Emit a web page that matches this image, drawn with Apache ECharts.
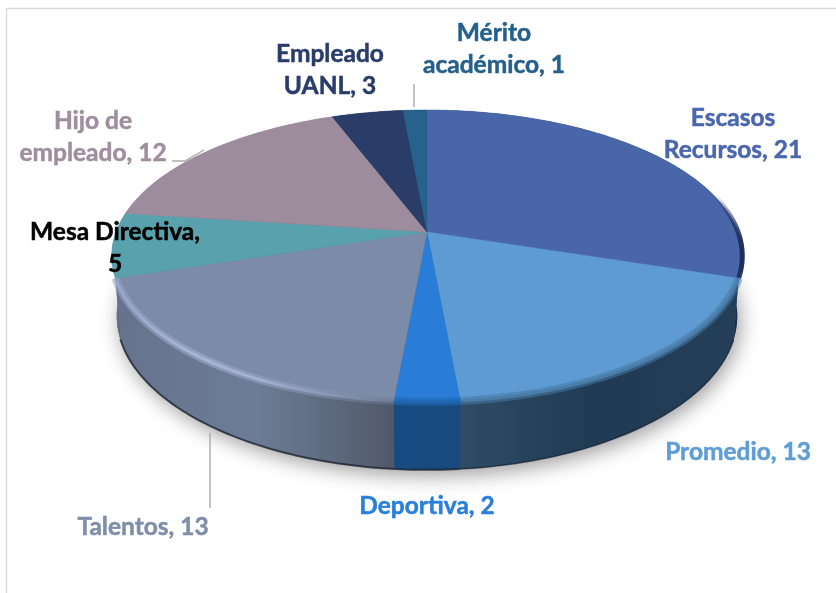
<!DOCTYPE html>
<html>
<head>
<meta charset="utf-8">
<style>html,body{margin:0;padding:0;background:#fff}#c{width:836px;height:593px}</style>
<script src="https://cdn.jsdelivr.net/npm/echarts@6/dist/echarts.min.js"></script>
</head>
<body>
<div id="c"></div>
<script>
// Data, clockwise from 12 o'clock
var categories = ['Escasos Recursos', 'Promedio', 'Deportiva', 'Talentos', 'Mesa Directiva', 'Hijo de empleado', 'Empleado UANL', 'Mérito académico'];
var values = [21, 13, 2, 13, 5, 12, 3, 1];
var labelLines = [['Escasos', 'Recursos, 21'], ['Promedio, 13'], ['Deportiva, 2'], ['Talentos, 13'], ['Mesa Directiva,', '5'], ['Hijo de', 'empleado, 12'], ['Empleado', 'UANL, 3'], ['Mérito', 'académico, 1']];

// Styles
var topColors = ['#4866a8', '#5e9bd2', '#2a7dd6', '#7c8ca8', '#5aa1ae', '#9c8c9d', '#2a3c68', '#27628d'];
var labelColors = ['#4a66ac', '#5f9dd5', '#2a7fdb', '#7f8fa9', '#000000', '#9e8e9e', '#2a3d6a', '#25608c'];
var sideStops = [
  ['#1e2c56', '#1e2c56'], ['#2f4c66', '#1f3a52', '#243f57'], ['#174c82', '#184a7e'], ['#66738c', '#6d7c96', '#50596a'],
  ['#66738c', '#66738c'], ['#8a7c8c', '#8a7c8c'], ['#1e2c50', '#1e2c50'], ['#1c4a6c', '#1c4a6c']
];
var labelBoxes = [[733, 118], [738, 452], [427, 506], [143, 527], [115, 232], [93, 121], [330, 54], [494, 33]];
var leaderLines = [[[210, 433], [210, 508]], [[414, 84], [414, 107]], [[172, 161], [185, 161], [204, 150]]];

var total = values.reduce(function (a, b) { return a + b; }, 0);
var CX = 427, APEX_Y = 232, RX = 311, RY = 142, K = 0.164;
var TOP_CY = 256, TOP_RY = 146, BOT_CY = 316, BOT_RY = 154, BOT_SX = 0.984;

function project(deg) {
  var t = deg * Math.PI / 180, u = Math.sin(t), v = Math.cos(t), w = 1 + K * v;
  return [CX + RX * u / w, APEX_Y - RY * v / w];
}
function toBottom(p) {
  return [CX + (p[0] - CX) * BOT_SX, BOT_CY + (p[1] - TOP_CY) * BOT_RY / TOP_RY];
}
function sliceRange(i) {
  var before = 0;
  for (var j = 0; j < i; j++) before += values[j];
  return [before / total * 360, (before + values[i]) / total * 360];
}
function arc(a0, a1) {
  var pts = [], n = Math.max(2, Math.ceil(a1 - a0));
  for (var s = 0; s <= n; s++) pts.push(project(a0 + (a1 - a0) * s / n));
  return pts;
}
function hGradient(x0, x1, colors) {
  return {
    type: 'linear', global: true, x: x0, y: 0, x2: x1, y2: 0,
    colorStops: colors.map(function (c, i) { return { offset: i / (colors.length - 1), color: c }; })
  };
}
function softLine(points, stroke, width, halo) {
  return {
    type: 'polyline', shape: { points: points },
    style: { fill: null, stroke: stroke, lineWidth: width, lineCap: 'butt', shadowBlur: halo ? 4 : 0, shadowColor: halo || 'transparent' }
  };
}

function renderBase() {
  var pts = arc(0, 360).map(toBottom);
  return { type: 'polygon', shape: { points: pts }, style: { fill: '#445', shadowBlur: 20, shadowColor: 'rgba(0,0,0,0.38)', shadowOffsetY: 6, shadowOffsetX: 3 } };
}
function renderSide(params) {
  var i = params.dataIndex, r = sliceRange(i), top = arc(r[0], r[1]);
  var bottom = top.map(toBottom);
  var pts = top.concat(bottom.slice().reverse());
  var xs = pts.map(function (p) { return p[0]; });
  var x0 = Math.min.apply(null, xs), x1 = Math.max.apply(null, xs);
  var children = [{ type: 'polygon', shape: { points: pts }, style: { fill: hGradient(x0, x1, sideStops[i]) } }];
  if (i === 3 || i === 2) children.push(softLine(bottom, 'rgba(28,32,44,0.75)', 2));
  if (i === 1) children.push(softLine(bottom, 'rgba(20,36,54,0.7)', 1.5));
  return { type: 'group', children: children };
}
function renderTop(params) {
  var i = params.dataIndex, r = sliceRange(i), edge = arc(r[0], r[1]);
  var children = [{
    type: 'polygon', shape: { points: [[CX, APEX_Y]].concat(edge) },
    style: { fill: topColors[i], stroke: topColors[i], lineWidth: 0.5 }
  }];
  if (i === 0) children.push(softLine(edge, hGradient(716, 742, ['rgba(30,44,90,0)', 'rgba(26,38,84,0.95)']), 5));
  if (i === 1) {
    children.push(softLine(edge, 'rgba(70,120,165,0.55)', 8));
    children.push(softLine(edge, '#4a7ca8', 3));
  }
  if (i === 2) {
    children.push(softLine(edge, 'rgba(32,105,185,0.6)', 8));
    children.push(softLine(edge, '#2068b3', 3));
  }
  if (i === 3) {
    children.push(softLine(edge, hGradient(116, 394, ['rgba(152,166,200,0.55)', 'rgba(166,179,214,0.55)', 'rgba(150,162,195,0.45)', 'rgba(110,124,150,0.4)']), 8));
    children.push(softLine(edge, hGradient(116, 394, ['#97a5c8', '#a8b5d8', '#a4b1d3', '#8b99b5', '#6f7c94']), 3));
  }
  return { type: 'group', children: children };
}
function renderLeader(params) {
  return { type: 'polyline', shape: { points: leaderLines[params.dataIndex] }, style: { fill: null, stroke: '#a9a9a9', lineWidth: 1.4 } };
}
function renderLabel(params) {
  var i = params.dataIndex, box = labelBoxes[i];
  return {
    type: 'group',
    children: labelLines[i].map(function (line, n) {
      return {
        type: 'text', z2: 10,
        style: { x: box[0], y: box[1] + n * 32, text: line, align: 'center', verticalAlign: 'middle', fill: labelColors[i], stroke: labelColors[i], lineWidth: 0.5, font: 'bold 24.5px Lato' }
      };
    })
  };
}

var chart = echarts.init(document.getElementById('c'), null, { renderer: 'canvas' });
chart.setOption({
  animation: false,
  backgroundColor: '#ffffff',
  graphic: [{ type: 'polyline', silent: true, shape: { points: [[6.5, 593], [6.5, 8.5], [836, 8.5]] }, style: { fill: null, stroke: '#dcdcdc', lineWidth: 1.5 } }],
  series: [
    { type: 'custom', coordinateSystem: 'none', silent: true, z: 1, data: [total], renderItem: renderBase },
    { type: 'custom', coordinateSystem: 'none', silent: true, z: 2, data: values, renderItem: renderSide },
    { type: 'custom', coordinateSystem: 'none', silent: true, z: 3, data: values, renderItem: renderTop },
    { type: 'custom', coordinateSystem: 'none', silent: true, z: 4, data: leaderLines.map(function (l) { return l.length; }), renderItem: renderLeader },
    { type: 'custom', coordinateSystem: 'none', silent: true, z: 5, data: values, renderItem: renderLabel }
  ]
});
</script>
</body>
</html>
